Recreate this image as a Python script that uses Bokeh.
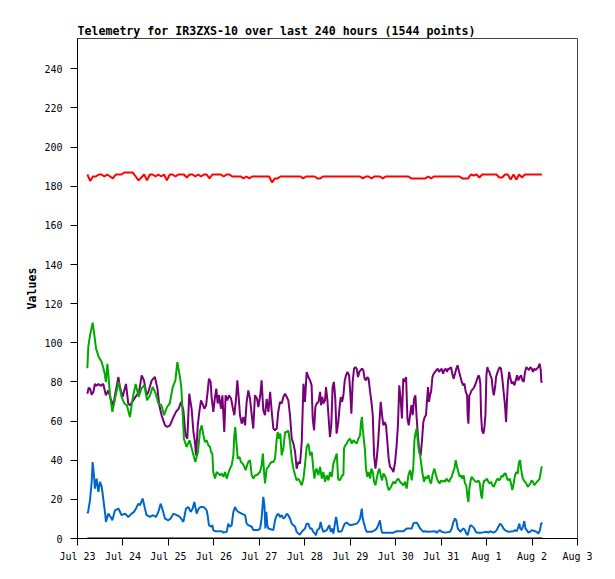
from bokeh.plotting import figure
from bokeh.models import Range1d, FixedTicker
from bokeh.embed import file_html
from bokeh.resources import INLINE

title_text = "Telemetry for IR3ZXS-10 over last 240 hours (1544 points)"
y_label = "Values"
day_labels = ["Jul 23", "Jul 24", "Jul 25", "Jul 26", "Jul 27", "Jul 28",
              "Jul 29", "Jul 30", "Jul 31", "Aug 1", "Aug 2", "Aug 3"]
y_ticks = [0, 20, 40, 60, 80, 100, 120, 140, 160, 180, 200, 220, 240]

# hours since Jul 23 00:00
green_t = [5.2, 5.7, 6.6, 8.0, 8.7, 9.8, 11.2, 12.8, 14.2, 15.0, 15.8, 17.2, 18.4, 19.8, 21.7, 23.3, 24.7, 26.1,
           27.7, 29.1, 30.7, 32.3, 33.7, 35.3, 36.7, 38.3, 39.7, 41.3, 42.7, 44.3, 45.7, 47.3, 48.7, 50.3, 51.7,
           52.7, 54.1, 54.8, 56.2, 57.6, 59.2, 60.6, 62.2, 63.6, 64.7, 65.6, 66.5, 67.3, 68.2, 69.1, 70.0, 70.5,
           71.2, 71.7, 72.6, 73.5, 74.4, 75.2, 76.1, 77.0, 77.9, 78.8, 79.6, 80.5, 81.4, 82.3, 82.8, 83.3, 83.9,
           84.6, 85.5, 86.3, 87.2, 88.1, 88.8, 89.5, 90.2, 91.1, 92.0, 92.9, 93.7, 94.6, 95.5, 96.4, 97.2, 97.9,
           98.5, 99.0, 99.9, 100.8, 101.7, 102.5, 103.4, 104.3, 105.2, 105.7, 106.4, 107.1, 107.8, 108.7, 109.6,
           110.5, 111.3, 112.2, 113.1, 114.0, 114.9, 115.7, 116.6, 117.5, 118.4, 119.3, 120.1, 121.0, 121.9,
           122.8, 123.7, 124.5, 125.1, 125.8, 126.3, 127.2, 128.1, 129.0, 129.8, 130.7, 131.6, 132.5, 133.3,
           134.2, 135.1, 136.0, 136.9, 137.6, 138.3, 139.0, 139.7, 140.4, 140.7, 141.4, 142.1, 143.0, 143.9,
           144.8, 145.7, 146.5, 147.4, 148.3, 149.2, 149.7, 150.2, 150.6, 151.3, 151.8, 152.3, 153.0, 153.7,
           154.5, 155.2, 155.9, 156.6, 157.3, 158.0, 158.7, 159.4, 160.1, 160.8, 161.5, 162.2, 162.9, 163.6,
           164.3, 165.0, 165.9, 166.8, 167.7, 168.5, 169.4, 170.3, 171.2, 172.1, 172.9, 173.8, 174.7, 175.6,
           176.5, 177.3, 177.9, 178.4, 179.1, 179.6, 180.2, 180.9, 181.6, 182.3, 183.0, 183.7, 184.4, 185.3,
           186.1, 186.7, 187.4, 187.9, 188.4, 189.1, 189.8, 190.5, 191.2, 191.9, 192.7, 193.4, 194.1, 194.8,
           195.5, 196.2, 196.9, 197.6, 198.3, 199.0, 199.7, 200.4, 201.1, 201.8, 202.5, 203.2, 203.9, 204.6,
           205.3, 205.9, 206.4, 206.9, 207.6, 208.1, 208.8, 209.5, 210.3, 211.0, 211.7, 212.4, 213.1, 213.6,
           214.1, 214.8, 215.5, 216.2, 216.9, 217.6, 218.3, 219.1, 219.8, 220.5, 221.2, 221.9, 222.6, 223.3,
           224.0, 224.7, 225.4, 226.1, 226.8, 227.5, 228.2, 228.9, 229.6, 230.3, 231.0, 231.7, 232.4, 233.1,
           233.7, 234.2, 234.9, 235.6, 236.3, 237.0, 237.7, 238.4, 239.1, 239.8, 240.5, 241.2, 241.9, 242.6,
           243.3, 244.0, 244.6, 245.1, 245.5]
green_v = [87, 97.9, 103.8, 110.3, 105.5, 97, 92.8, 90.2, 85, 80, 89.3, 73, 64.7, 71.4, 80, 72.3, 69, 68,
           62, 71.5, 79, 72.3, 76.6, 78.3, 70.6, 73.2, 77.4, 74, 69, 68.1, 63, 67.2, 69, 77.4, 80.8,
           90.2, 82.5, 77.4, 51, 46.8, 50.2, 45, 39.1, 44.2, 55, 57.8, 52.7, 49.3, 50.2, 47.6, 46.8, 44.2,
           43.4, 34, 30.6, 34, 33.2, 32.3, 33.2, 31.5, 34, 30.6, 33.2, 35.7, 37.4, 42.5, 52.7, 57, 49.3,
           40.8, 41.7, 39.1, 38.3, 36.6, 34.9, 37.4, 39.1, 40, 32.3, 30.6, 32.3, 32.3, 33.2, 34, 37.4, 43.4,
           34, 28.1, 35.7, 36.6, 38.3, 39.1, 39.1, 40.8, 51, 54.4, 51, 53.6, 42.5, 46, 54.4,
           54.4, 55.3, 49.3, 40.8, 35.7, 32.3, 29.7, 30.6, 29, 27.2, 30.6, 37.4, 46.8, 48.5,
           42.5, 44.2, 35.7, 30.6, 34.9, 35.7, 32.3, 36.6, 30.6, 34, 29, 32.3, 29.7, 34,
           31.5, 38.3, 40.8, 43.4, 30.6, 29.7, 30.6, 32.3, 32.3, 46, 47.6, 48.5, 50.2, 51,
           48.5, 50.2, 49.3, 48.5, 51, 52.7, 59.5, 62.1, 56.2, 49.3, 45.1, 35.7, 31.5, 34,
           30.6, 35.7, 34, 29, 27.2, 30.6, 34, 35.7, 32.3, 29.7, 33.2, 32.3, 30.6, 27.2,
           24.7, 25.5, 27.2, 29, 28.1, 29.7, 30.6, 29, 28.1, 27.2, 29, 25.5, 32.3, 34.9,
           29.7, 36.6, 50.2, 53.6, 56.2, 50.2, 45.1, 42.5, 37.4, 32.3, 29, 31.5, 30.6, 32.3,
           29, 28.1, 32.3, 34, 35.7, 33.2, 30.6, 29, 28.1, 29.7, 29, 29.7, 29, 30.6,
           29.7, 29, 30.6, 31.5, 34, 35.7, 40, 36.6, 34, 31.5, 32.3, 30.6, 32.3, 28.1,
           27.2, 21.2, 18.7, 25.5, 29.7, 31.5, 30.6, 29.7, 29, 29, 29.7, 28.1, 22.1, 20.4,
           27.2, 29.7, 29.7, 30.6, 29, 28.1, 29, 27.2, 26.4, 28.1, 29.7, 30.6, 29.7, 30.6,
           32.3, 31.5, 33.2, 33.2, 30.6, 29.7, 30.6, 28.1, 24.7, 28.1, 32.3, 34, 33.2, 39.1,
           40, 35.7, 31.5, 29.7, 29, 28.1, 26.4, 27.2, 28.1, 29.7, 29, 27.2, 28.1, 29,
           29.7, 30.6, 34, 36.6, 36.6]

purple_t = [5.2, 5.9, 6.6, 7.5, 8.4, 9.2, 10.1, 11.0, 12.2, 13.6, 15.0, 16.3, 17.5, 18.9, 19.8, 21.6, 22.4,
            23.8, 25.6, 26.8, 27.7, 29.5, 31.2, 32.5, 33.9, 35.1, 36.5, 37.4, 39.2, 40.9, 42.2, 43.2, 44.4,
            46.2, 47.4, 48.8, 50.3, 52.0, 53.4, 54.7, 55.9, 57.0, 58.0, 59.0, 60.3, 61.2, 62.0, 62.6, 63.5,
            64.2, 65.2, 65.9, 67.0, 67.9, 68.7, 69.4, 70.3, 70.8, 71.7, 72.6, 73.3, 74.0, 74.7, 75.8, 76.5,
            77.5, 78.2, 79.1, 80.0, 81.1, 81.9, 82.8, 83.7, 84.4, 85.1, 85.8, 86.7, 87.6, 88.5, 89.3, 90.2,
            91.1, 92.0, 92.8, 93.7, 94.8, 95.5, 96.5, 97.2, 98.1, 99.0, 99.9, 100.8, 101.7, 102.5, 103.4,
            104.3, 105.2, 106.0, 106.9, 107.8, 108.7, 109.6, 110.5, 111.3, 112.2, 113.1, 114.0, 114.9, 115.7,
            116.6, 117.5, 118.4, 119.3, 120.1, 121.0, 121.9, 122.8, 123.6, 124.2, 124.9, 125.6, 126.3, 127.2,
            128.1, 128.6, 129.3, 129.8, 130.7, 131.2, 131.9, 132.5, 133.3, 134.0, 134.7, 135.4, 136.1, 136.8,
            137.7, 138.3, 139.0, 139.7, 140.4, 141.1, 141.8, 142.5, 143.4, 144.1, 144.6, 145.3, 146.0, 146.7,
            147.4, 148.1, 148.8, 149.5, 150.2, 150.9, 151.6, 152.3, 153.0, 153.7, 154.5, 155.2, 155.9, 156.6,
            157.3, 158.0, 158.7, 159.4, 160.1, 160.8, 161.5, 162.2, 162.9, 163.6, 164.3, 165.0, 165.9, 166.8,
            167.7, 168.5, 169.2, 169.9, 170.6, 171.3, 172.0, 172.7, 173.5, 174.2, 174.9, 175.6, 176.3, 177.0,
            177.7, 178.4, 179.1, 179.8, 180.5, 181.2, 181.9, 182.6, 183.3, 184.0, 184.6, 185.1, 185.6, 186.1,
            186.7, 187.4, 188.1, 188.8, 189.5, 190.2, 190.9, 191.6, 192.3, 193.0, 193.7, 194.4, 195.1, 195.8,
            196.5, 197.2, 197.9, 198.6, 199.3, 200.0, 200.7, 201.5, 202.2, 202.9, 203.6, 204.3, 205.0, 205.7,
            206.0, 206.4, 206.9, 207.4, 208.1, 209.0, 209.9, 210.8, 211.7, 212.2, 212.7, 213.1, 213.6, 214.3,
            214.8, 215.4, 215.9, 216.4, 216.9, 217.5, 218.0, 218.7, 219.2, 219.8, 220.5, 221.0, 221.5, 222.2,
            222.9, 223.6, 224.3, 225.0, 225.7, 226.3, 226.8, 227.3, 227.9, 228.6, 229.3, 230.0, 230.7, 231.4,
            232.1, 232.8, 233.5, 234.2, 234.9, 235.6, 236.3, 237.0, 237.7, 238.4, 239.1, 239.8, 240.5, 241.2,
            241.9, 242.6, 243.3, 244.0, 244.6, 244.9, 245.5]
purple_v = [74, 77, 76.6, 73.5, 75, 79, 78, 79, 78, 79, 73.2, 75.7, 71.4, 68, 73.2, 82.5, 77.4,
            72.3, 79, 69, 68, 70.6, 73.2, 74.9, 83.4, 80.8, 73.2, 74.9, 80.8, 82.5, 76.6, 68, 63,
            57.8, 57, 57.8, 61.3, 64.7, 66.3, 69.8, 65.5, 53, 51, 74, 66, 54.5, 49.3, 42.5, 57.8,
            63.8, 70.6, 69, 66.3, 68.1, 74.9, 81.7, 80, 72.3, 64.7, 72.3, 76.6, 69, 73.2, 66.3, 73.2,
            54.4, 73.2, 70.6, 73.2, 71.4, 67.2, 63, 71.4, 80.8, 72.3, 63, 58.7, 62.1, 57.8, 69.8, 75.7,
            71.4, 63, 56.2, 73.2, 71.4, 67.2, 73.2, 80.8, 65.5, 63, 71.4, 64.7, 74.9, 65.5, 56.2,
            55.3, 56.2, 64.7, 69.8, 69, 72.3, 74, 72.3, 70.6, 63, 51, 48.5, 44.2, 35.7,
            39.1, 38.3, 49.3, 79.1, 69.8, 85.1, 82.5, 80.8, 78.3, 61.3, 55.3, 67.2, 69, 69.8,
            74.9, 68.1, 72.3, 69, 70.6, 77.4, 71.4, 63, 51.9, 57.8, 77.4, 80, 71.4, 53.6,
            59.5, 66.3, 72.3, 69.8, 73.2, 80.8, 83.4, 85.1, 83.4, 73.2, 63.8, 80, 86.8, 87.6,
            86.8, 82.5, 85.1, 86, 86.8, 86, 81.7, 80.8, 82.5, 81.7, 74.9, 69.8, 63, 42.5,
            35.7, 40.8, 48.5, 59.5, 69.8, 63, 57.8, 59.5, 57.8, 49.3, 40.8, 36.6, 35.7, 34,
            39.1, 47.6, 57.8, 78.3, 71.4, 61.3, 81.7, 80, 82.5, 61.3, 57.8, 63, 68.1, 63,
            71.4, 73.2, 61.3, 51.9, 44.2, 42.5, 50.2, 59.5, 62, 63, 71.4, 77.4, 69.8, 73.2,
            74.9, 82.5, 84.2, 85.1, 86, 86.8, 85.1, 86, 86.8, 84.2, 86, 86.8, 85.1, 86.8,
            86.8, 87.6, 84.2, 81.7, 84.2, 86.8, 88.5, 85.1, 82.5, 80, 78.3, 79.1, 74.9, 73.2,
            63, 58.7, 73.2, 74, 75.7, 76.6, 78.3, 80.8, 83.4, 82.5, 79.1, 63, 55.3, 53.6,
            56.2, 63, 83.4, 87.6, 86, 85.1, 83.4, 81.7, 76.6, 73.2, 77.4, 82.5, 84.2, 86,
            87.6, 86.8, 81.7, 74.9, 68.1, 59.5, 71.4, 80, 85.1, 81.7, 79.1, 80, 78.3, 80.8,
            83.4, 80.8, 82.5, 83.4, 80.8, 80, 85.1, 87.6, 86.8, 86, 87.6, 86.8, 85.1, 86.8,
            86, 86.8, 87.6, 89.3, 86, 80, 80]

blue_t = [5.2, 5.5, 6.6, 7.5, 8.0, 8.7, 9.2, 10.1, 11.0, 11.9, 12.8, 13.6, 14.7, 15.0, 16.3, 17.5, 18.4,
          19.8, 21.6, 23.3, 25.1, 26.8, 28.6, 29.8, 30.9, 32.1, 33.0, 34.4, 35.6, 36.5, 38.3, 40.0, 41.4,
          42.7, 43.9, 45.0, 46.2, 48.0, 49.2, 50.6, 52.4, 54.1, 55.9, 57.3, 58.5, 59.8, 60.8, 61.7, 62.9,
          64.0, 65.0, 65.6, 66.5, 67.3, 68.2, 68.7, 69.4, 70.5, 71.2, 71.7, 72.6, 74.4, 76.1, 77.0, 78.8,
          79.6, 80.5, 81.4, 82.3, 83.2, 84.0, 84.9, 86.7, 88.5, 89.3, 90.2, 92.0, 92.8, 95.5, 96.4, 97.2,
          98.1, 98.7, 99.2, 99.7, 100.2, 100.8, 103.4, 104.3, 105.2, 106.0, 106.9, 107.8, 108.7, 109.6,
          110.5, 111.3, 112.2, 113.1, 114.0, 114.9, 115.7, 116.6, 117.5, 118.4, 120.1, 121.0, 121.9, 122.8,
          123.6, 124.5, 125.4, 125.9, 126.6, 127.7, 128.4, 128.9, 129.8, 131.6, 132.5, 133.0, 133.7, 134.4,
          135.1, 135.8, 136.5, 136.9, 137.7, 139.5, 140.4, 141.1, 142.1, 143.9, 145.7, 147.4, 148.3, 149.2,
          150.1, 150.6, 151.3, 152.0, 152.7, 155.3, 157.1, 158.0, 158.8, 159.7, 160.3, 160.8, 166.8, 168.5,
          172.1, 173.8, 176.5, 177.3, 178.2, 179.1, 180.0, 180.9, 181.7, 182.6, 183.5, 185.3, 188.8, 189.7,
          191.4, 192.3, 194.1, 196.7, 197.6, 198.5, 199.3, 200.0, 200.8, 201.5, 202.2, 202.9, 203.7, 204.6,
          205.3, 206.0, 206.7, 207.4, 208.8, 209.5, 210.3, 211.0, 213.4, 216.1, 216.9, 217.8, 219.6, 220.5,
          221.3, 222.2, 223.1, 224.0, 224.9, 225.7, 227.5, 230.1, 231.0, 231.9, 232.8, 233.3, 233.8, 234.5,
          235.4, 235.9, 236.5, 237.2, 238.1, 238.9, 239.8, 241.6, 242.5, 243.3, 244.2, 244.8, 245.5]
blue_v = [13.6, 13, 19.6, 29, 39.1, 32.3, 25.5, 30.6, 23.8, 29, 26.4, 20.4, 11.9, 8.5, 12.7, 11, 9.3,
          14.4, 15.3, 11.9, 12.7, 11, 12.7, 13.6, 15.3, 17.8, 17, 20.4, 15.3, 11.9, 11, 11.9, 11,
          13.6, 17.8, 14.4, 10.2, 9.3, 10.2, 12.7, 11.9, 11, 8.5, 15.3, 16.1, 13.6, 15.3, 18.7, 12.7,
          15.3, 16.1, 16.1, 16.1, 15.5, 14.4, 11.9, 6.8, 6, 6.8, 4.3, 3.7, 3.7, 3.7, 3, 3.4,
          7.6, 6, 6.8, 13.6, 16.1, 14.4, 13.6, 12.7, 11.9, 7.6, 6.8, 6, 4.3, 4.3, 5.1, 10.2,
          21.3, 17, 5.1, 13.6, 6.8, 5.1, 4.3, 9.3, 11.9, 12.7, 11, 11.9, 10.2, 11,
          12.7, 11.9, 10.2, 7.6, 6.8, 6, 3.4, 2.5, 2, 3.4, 5.1, 7.6, 7.6, 5.1,
          5.1, 3.4, 2.5, 1.7, 4.3, 5.1, 8.5, 6, 3.4, 4.3, 6, 6.8, 3.4, 5.1,
          2.5, 6.8, 11, 9.3, 3.4, 3.7, 6, 7.6, 8.1, 6.8, 7.2, 7.6, 8.5, 10.2,
          15.3, 10.2, 7.6, 5.1, 3.4, 3.4, 4.3, 5.1, 6.8, 9.3, 5.1, 3, 3, 3.7,
          3.7, 5.1, 5.1, 7.6, 8.1, 8.1, 6.8, 5.1, 4.3, 3.4, 3.7, 3.4, 3.7, 3,
          4.3, 3.4, 3, 3.4, 5.1, 8.5, 10.2, 9.3, 5.1, 4.3, 3.4, 4.3, 5.1, 4.3,
          2.5, 1.7, 4.3, 6.8, 6, 5.1, 3.4, 3, 3, 3.4, 3, 3.7, 3, 3.4,
          4.3, 6, 7.6, 6.8, 5.1, 4.3, 3.4, 3.7, 4.3, 3.7, 6, 7.6, 5.1, 4.3,
          6.8, 8.9, 5.1, 4.3, 3, 3.4, 4.3, 3.7, 3.4, 2.5, 4.3, 7.6, 8]

# red series: readings every 1.5 h from first sample
red_start = 5.2
red_step = 1.5
red_v = [186, 182.7, 185, 185, 186, 186, 185, 186, 185, 184, 186, 186, 186, 187, 187, 187, 187, 185, 183, 184.5,
         186, 183, 186, 186, 185, 186, 185, 186, 183, 186, 186, 185, 186, 186, 186, 184.5, 186, 186, 185, 186,
         185, 186, 186, 184, 186, 186, 186, 186, 185, 186, 186, 185, 185, 185, 185, 184, 185, 184, 185, 185,
         185, 185, 185, 185, 185, 182, 184, 184, 185, 185, 185, 185, 185, 185, 185, 185, 184, 185, 185, 185,
         185, 184, 184, 185, 185, 185, 185, 185, 185, 185, 185, 185, 185, 185, 185, 185, 185, 184, 185, 185,
         184, 185, 185, 185, 184, 185, 185, 185, 185, 185, 185, 185, 185, 185, 184, 184, 184, 184, 184, 184,
         185, 184, 185, 185, 185, 185, 185, 185, 185, 185, 185, 185, 184, 184, 184, 186, 185.5, 186, 184.5, 186,
         186, 186, 186, 186, 186, 184.5, 184.5, 186, 186, 183.5, 186, 183.5, 186, 184.5, 186, 186, 186, 186,
         186, 186, 186]
red_t = [red_start + red_step * i for i in range(len(red_v))]

black_t = [green_t[0], green_t[-1]]
black_v = [0, 0]

p = figure(frame_width=500, frame_height=500,
           x_range=Range1d(0, 24 * (len(day_labels) - 1)), y_range=Range1d(0, 255.5),
           output_backend="svg", toolbar_location=None,
           min_border_left=77, min_border_top=38, min_border_right=30, min_border_bottom=35,
           title=title_text)

p.title.text_font = "DejaVu Sans Mono"
p.title.text_font_style = "bold"
p.title.text_font_size = "11.6px"
p.title.text_color = "black"
p.title.align = "left"
p.title.standoff = 2
p.title.offset = 0

p.xgrid.visible = False
p.ygrid.visible = False
p.outline_line_color = "#444444"
p.outline_line_width = 1
p.background_fill_color = "white"
p.border_fill_color = "white"

for ax in (p.xaxis[0], p.yaxis[0]):
    ax.axis_line_color = "black"
    ax.axis_line_width = 1
    ax.major_tick_line_color = "black"
    ax.major_tick_out = 7
    ax.major_tick_in = 0
    ax.minor_tick_out = 0
    ax.minor_tick_in = 0
    ax.major_label_text_font = "DejaVu Sans Mono"
    ax.major_label_text_font_size = "10px"
    ax.major_label_text_color = "black"

x_ticks = [24 * i for i in range(len(day_labels))]
p.xaxis.ticker = FixedTicker(ticks=x_ticks)
p.xaxis.major_label_overrides = {t: lbl for t, lbl in zip(x_ticks, day_labels)}
p.xaxis.major_label_standoff = 5
p.yaxis.ticker = FixedTicker(ticks=y_ticks)
p.yaxis.major_label_standoff = 8
p.yaxis.axis_label = y_label
p.yaxis.axis_label_text_font = "DejaVu Sans Mono"
p.yaxis.axis_label_text_font_style = "bold"
p.yaxis.axis_label_text_font_size = "11.6px"
p.yaxis.axis_label_text_color = "black"
p.yaxis.axis_label_standoff = 2

p.line(red_t, red_v, line_color="#FF0000", line_width=2)
p.line(purple_t, purple_v, line_color="#780078", line_width=2)
p.line(green_t, green_v, line_color="#00AA00", line_width=2)
p.line(blue_t, blue_v, line_color="#0066CC", line_width=2)
p.line(black_t, black_v, line_color="#000000", line_width=2)

open("out.html", "w").write(file_html(p, INLINE))
